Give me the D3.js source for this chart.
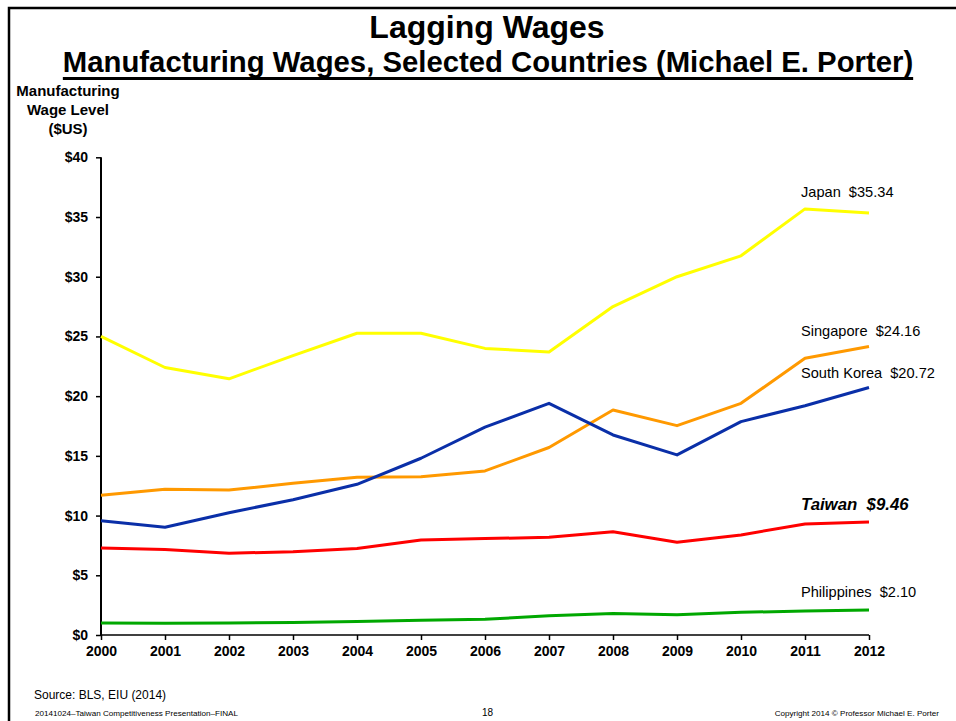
<!DOCTYPE html>
<html>
<head>
<meta charset="utf-8">
<script src="https://cdn.jsdelivr.net/npm/d3@7"></script>
<style>
  body { margin: 0; background: #fff; }
  svg { display: block; font-family: "Liberation Sans", Arial, sans-serif; }
</style>
</head>
<body>
<div class="chart"></div>
<script>
// data
const years = [2000, 2001, 2002, 2003, 2004, 2005, 2006, 2007, 2008, 2009, 2010, 2011, 2012];
const japan = [25.0, 22.4, 21.45, 23.4, 25.27, 25.27, 24.0, 23.7, 27.5, 30.0, 31.75, 35.68, 35.34];
const singapore = [11.7, 12.2, 12.14, 12.7, 13.2, 13.26, 13.74, 15.7, 18.84, 17.53, 19.4, 23.17, 24.16];
const southKorea = [9.57, 9.02, 10.24, 11.33, 12.62, 14.8, 17.4, 19.4, 16.75, 15.08, 17.87, 19.2, 20.72];
const taiwan = [7.29, 7.15, 6.84, 6.98, 7.24, 7.96, 8.07, 8.18, 8.65, 7.76, 8.38, 9.3, 9.46];
const philippines = [1.0, 0.98, 1.0, 1.05, 1.12, 1.23, 1.31, 1.62, 1.79, 1.7, 1.9, 2.01, 2.10];
const seriesNames = ["Japan", "Singapore", "South Korea", "Taiwan", "Philippines"];
const endLabels = ["$35.34", "$24.16", "$20.72", "$9.46", "$2.10"];
const yTicks = [0, 5, 10, 15, 20, 25, 30, 35, 40];

const series = [japan, singapore, southKorea, taiwan, philippines];
const colors = ["#ffff00", "#ff9900", "#0a2fa8", "#ff0000", "#00a800"];
const labelDy = [-16, -10, -10, -12, -13];

const svgWidth = 956, svgHeight = 721;

const svg = d3.select(".chart")
  .append("svg")
  .attr("width", svgWidth)
  .attr("height", svgHeight);

// slide frame
svg.append("path")
  .attr("d", `M9,${svgHeight} L9,8 L${svgWidth},8`)
  .attr("fill", "none")
  .attr("stroke", "#000")
  .attr("stroke-width", 2.5);

// titles
svg.append("text")
  .attr("x", 487).attr("y", 38)
  .attr("text-anchor", "middle")
  .attr("font-size", 32).attr("font-weight", "bold")
  .text("Lagging Wages");

const sub = svg.append("text")
  .attr("x", 488).attr("y", 72)
  .attr("text-anchor", "middle")
  .attr("font-size", 29.3).attr("font-weight", "bold")
  .text("Manufacturing Wages, Selected Countries (Michael E. Porter)");
const sb = sub.node().getBBox();
svg.append("rect")
  .attr("x", sb.x).attr("y", 77)
  .attr("width", sb.width).attr("height", 3)
  .attr("fill", "#000");

// y axis title
svg.append("text")
  .attr("font-size", 15).attr("font-weight", "bold")
  .attr("text-anchor", "middle")
  .selectAll("tspan")
  .data(["Manufacturing", "Wage Level", "($US)"])
  .join("tspan")
  .attr("x", 68)
  .attr("y", (d, i) => 96 + i * 19)
  .text(d => d);

// scales
const x = d3.scaleLinear().domain([2000, 2012]).range([101, 869]);
const y = d3.scaleLinear().domain([0, 40]).range([635, 157.3]);

// axes
const yAxis = svg.append("g")
  .attr("transform", "translate(101,0)")
  .call(d3.axisLeft(y).tickValues(yTicks).tickSize(5).tickPadding(8).tickFormat(d => "$" + d));
const xAxis = svg.append("g")
  .attr("transform", "translate(0,635)")
  .call(d3.axisBottom(x).tickValues(years).tickSize(5).tickPadding(6).tickFormat(d3.format("d")));

[yAxis, xAxis].forEach(g => {
  g.select(".domain").attr("stroke", "#000").attr("stroke-width", 2);
  g.selectAll(".tick line").attr("stroke", "#000").attr("stroke-width", 1.5);
  g.selectAll(".tick text")
    .attr("fill", "#000")
    .attr("font-family", "Liberation Sans, Arial, sans-serif")
    .attr("font-size", 14)
    .attr("font-weight", "bold");
});
yAxis.select(".domain").attr("d", "M0,635V157.3");
xAxis.select(".domain").attr("d", "M101,0H869").attr("stroke-width", 1.5);

// lines
const line = d3.line()
  .x((d, i) => x(years[i]))
  .y(d => y(d));

svg.selectAll(".series")
  .data(series)
  .join("path")
  .attr("class", "series")
  .attr("d", line)
  .attr("fill", "none")
  .attr("stroke", (d, i) => colors[i])
  .attr("stroke-width", 3)
  .attr("stroke-linejoin", "round");

// end labels
series.forEach((s, i) => {
  const isTaiwan = seriesNames[i] === "Taiwan";
  svg.append("text")
    .attr("x", 801)
    .attr("y", y(s[s.length - 1]) + labelDy[i])
    .attr("font-size", isTaiwan ? 16.8 : 14.6)
    .attr("font-weight", isTaiwan ? "bold" : "normal")
    .attr("font-style", isTaiwan ? "italic" : "normal")
    .attr("fill", "#000")
    .attr("xml:space", "preserve")
    .text(seriesNames[i] + "  " + endLabels[i]);
});

// footer
svg.append("text")
  .attr("x", 34).attr("y", 699)
  .attr("font-size", 12)
  .text("Source: BLS, EIU (2014)");
svg.append("text")
  .attr("x", 35).attr("y", 716)
  .attr("font-size", 8.1)
  .text("20141024\u2013Taiwan Competitiveness Presentation\u2013FINAL");
svg.append("text")
  .attr("x", 482).attr("y", 716)
  .attr("font-size", 10)
  .text("18");
svg.append("text")
  .attr("x", 939).attr("y", 716)
  .attr("text-anchor", "end")
  .attr("font-size", 8.1)
  .text("Copyright 2014 \u00a9 Professor Michael E. Porter");
</script>
</body>
</html>
